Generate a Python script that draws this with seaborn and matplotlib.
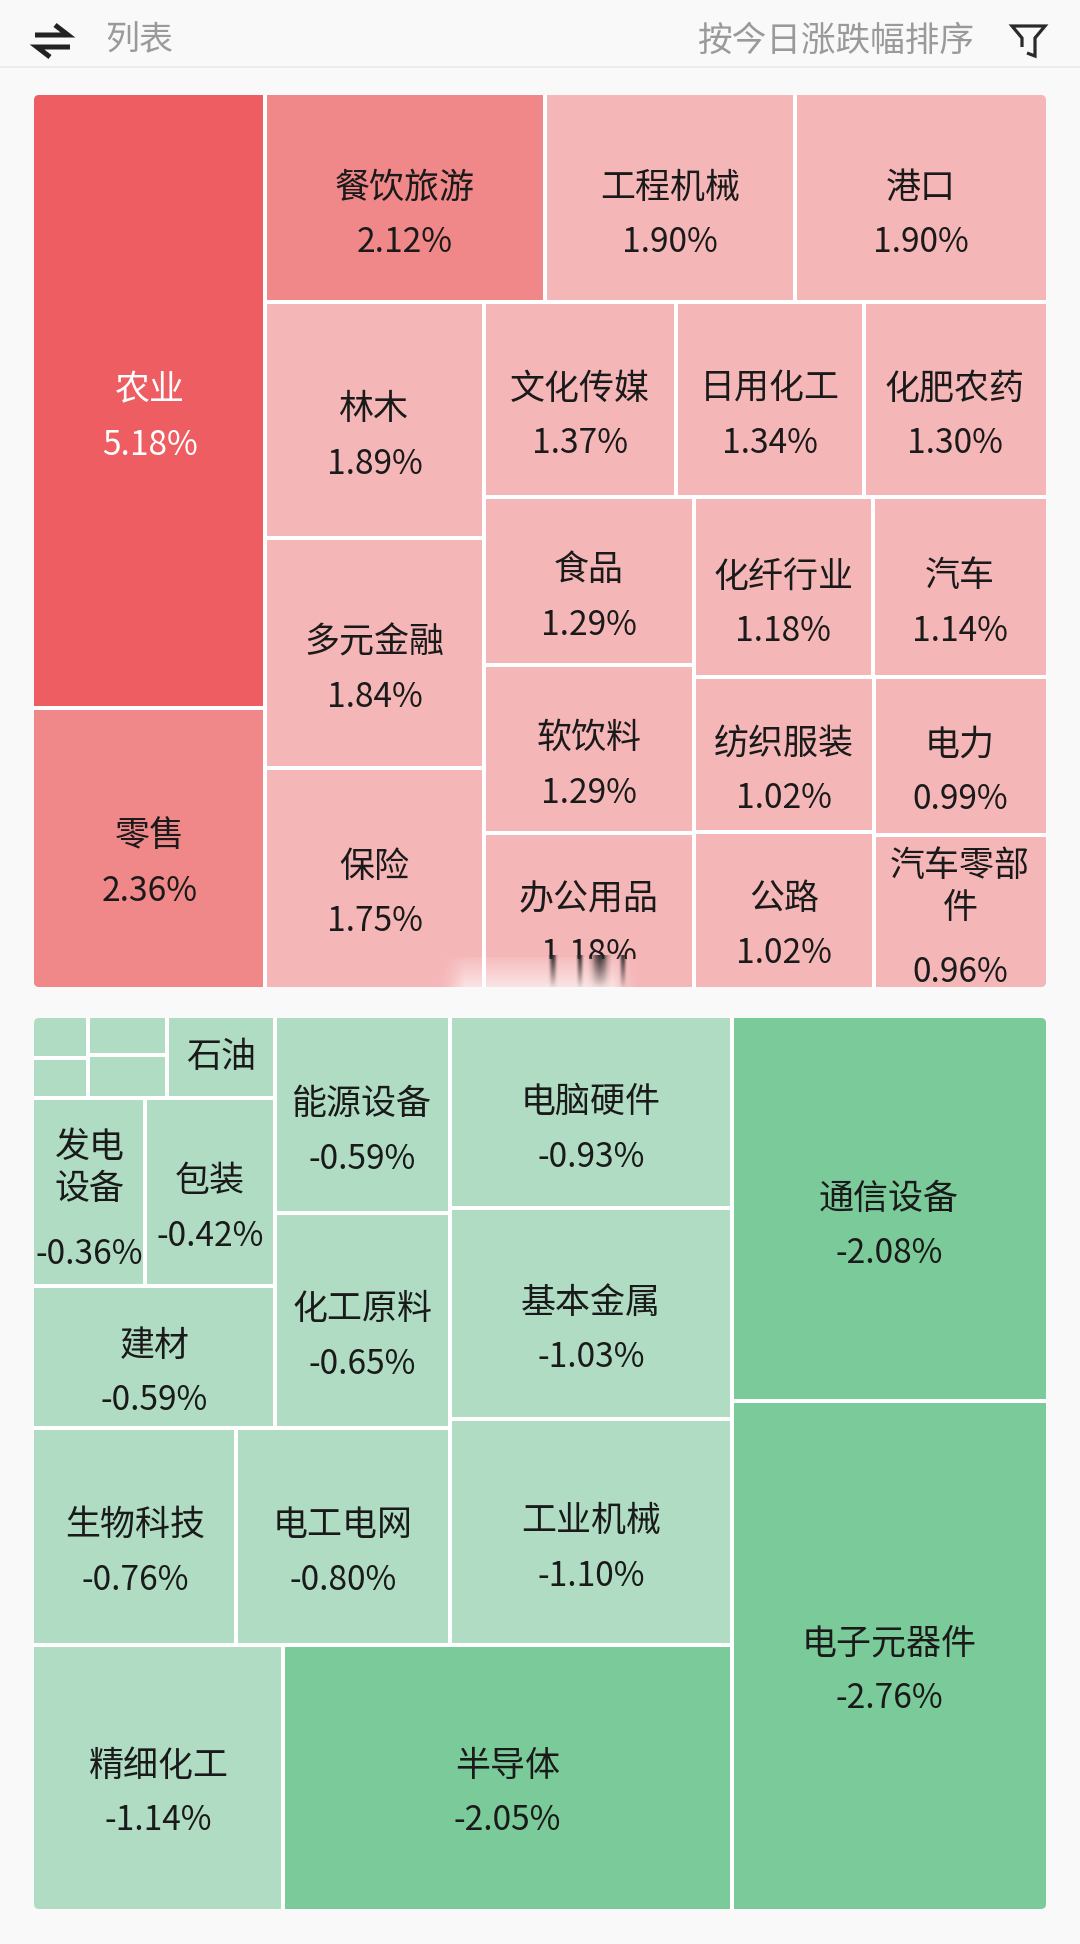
import numpy as np
import matplotlib
matplotlib.use("Agg")
import matplotlib.pyplot as plt
from matplotlib.patches import Rectangle, FancyBboxPatch
import seaborn as sns

up_names = ["农业", "零售", "餐饮旅游", "工程机械", "港口", "林木", "多元金融", "保险", "文化传媒", "日用化工",
            "化肥农药", "食品", "软饮料", "办公用品", "化纤行业", "汽车", "纺织服装", "公路", "电力", "汽车零部件"]
up_values = [5.18, 2.36, 2.12, 1.90, 1.90, 1.89, 1.84, 1.75, 1.37, 1.34,
             1.30, 1.29, 1.29, 1.18, 1.18, 1.14, 1.02, 1.02, 0.99, 0.96]
up_groups = [2, 3, 3, 3, 3, 2, 2, 2]
up_stack = ["col", "row", "col", "row", "col", "row", "col", "col"]

down_names = ["电子元器件", "通信设备", "半导体", "精细化工", "工业机械", "基本金属", "电脑硬件", "电工电网", "生物科技",
              "化工原料", "能源设备", "建材", "包装", "发电设备", "石油", "", "", "", ""]
down_values = [-2.76, -2.08, -2.05, -1.14, -1.10, -1.03, -0.93, -0.80, -0.76,
               -0.65, -0.59, -0.59, -0.42, -0.36, -0.15, -0.06, -0.05, -0.038, -0.037]
down_groups = [2, 2, 3, 2, 2, 1, 2, 1, 2, 2]
down_stack = ["col", "row", "col", "row", "col", "row", "row", "col", "col", "col"]

sns.set_theme(style="white")
plt.rcParams["font.family"] = ["Noto Sans CJK SC", "DejaVu Sans"]

BG = "#F9F9F9"
reds = sns.color_palette(["#F5B6B8", "#F08789", "#EE5D62"])
greens = sns.color_palette(["#B0DCC3", "#7ACA9A"])
PX = 0.72
GAP = 2.0


def shade(v):
    if v >= 3:
        return reds[2]
    if v >= 2:
        return reds[1]
    if v > 0:
        return reds[0]
    return greens[1] if v <= -2 else greens[0]


def layout(values, groups, stacks, w0, h0):
    x0, y0, x1, y1 = 0.0, 0.0, w0, h0
    mags = [abs(v) for v in values]
    remaining = sum(mags)
    out, i = [], 0
    for n, kind in zip(groups, stacks):
        chunk = mags[i:i + n]
        s = sum(chunk)
        w, h = x1 - x0, y1 - y0
        if kind == "col":
            cw = w * s / remaining
            y = y0
            for m in chunk:
                out.append((x0, y, x0 + cw, y + h * m / s))
                y += h * m / s
            x0 += cw
        else:
            ch = h * s / remaining
            x = x0
            for m in chunk:
                out.append((x, y0, x + w * m / s, y0 + ch))
                x += w * m / s
            y0 += ch
        remaining -= s
        i += n
    return out


def draw_panel(ax, names, values, groups, stacks, box, flip):
    x0, y0, x1, y1 = box
    W, H = x1 - x0, y1 - y0
    panel = FancyBboxPatch((x0, y0), W, H, boxstyle="round,pad=0,rounding_size=5",
                           fc="white", ec="none", zorder=1)
    ax.add_patch(panel)
    for name, v, c in zip(names, values, layout(values, groups, stacks, W, H)):
        cx0, cy0, cx1, cy1 = c
        if flip:
            cx0, cx1 = W - cx1, W - cx0
            cy0, cy1 = H - cy1, H - cy0
        ix0 = cx0 + (GAP if cx0 > 0.5 else 0)
        ix1 = cx1 - (GAP if cx1 < W - 0.5 else 0)
        iy0 = cy0 + (GAP if cy0 > 0.5 else 0)
        iy1 = cy1 - (GAP if cy1 < H - 0.5 else 0)
        r = Rectangle((ix0 + x0, iy0 + y0), ix1 - ix0, iy1 - iy0, fc=shade(v), ec="none", zorder=2)
        ax.add_patch(r)
        r.set_clip_path(panel)
        if not name:
            continue
        w, h = cx1 - cx0, cy1 - cy0
        mx, my = (cx0 + cx1) / 2 + x0, (cy0 + cy1) / 2 + y0
        per = int((w - 10) // 35)
        col = "white" if v >= 3 else "#1A1A1A"
        lines = [name[k:k + per] for k in range(0, len(name), per)]
        pct = f"{v:.2f}%"
        if h < 100:
            rows = [(name, my - 1, 35)]
        elif len(lines) == 1:
            rows = [(name, my - 11, 35), (pct, my + 44, 33.5)]
        else:
            rows = [(lines[0], my - 45, 35), (lines[1], my - 3, 35), (pct, my + 62, 33.5)]
        for s, yy, size in rows:
            t = ax.text(mx, yy, s, ha="center", va="center", color=col, fontsize=size * PX, zorder=3)
            t.set_clip_path(r)
            t.set_clip_on(True)
            if name == "办公用品" and s == pct:
                # the screenshot's blurred overlay cuts this label in half
                t.set_clip_path(Rectangle((ix0 + x0, iy0 + y0), ix1 - ix0, 959 - (iy0 + y0),
                                          transform=ax.transData))


fig = plt.figure(figsize=(10.8, 19.44), dpi=100, facecolor=BG)
ax = fig.add_axes([0, 0, 1, 1], facecolor=BG)
ax.set_xlim(0, 1080)
ax.set_ylim(1944, 0)
ax.axis("off")

# header
ax.plot([0, 1080], [67, 67], color="#E9E9E9", lw=1.5 * PX, zorder=1)
ax.text(105, 41, "列表", ha="left", va="center", color="#9A9A9A", fontsize=34 * PX)
ax.text(975, 41, "按今日涨跌幅排序", ha="right", va="center", color="#9A9A9A", fontsize=34.7 * PX)
ax.plot([35, 68, 55], [35, 35, 25], color="#222222", lw=5 * PX, solid_capstyle="butt", solid_joinstyle="miter")
ax.plot([70, 37, 50], [47, 47, 57], color="#222222", lw=5 * PX, solid_capstyle="butt", solid_joinstyle="miter")
ax.plot([1022, 1022, 1012, 1045, 1035, 1035, 1027], [47, 38, 26, 26, 38, 56, 53], color="#2A2A2A",
        lw=3.2 * PX, solid_joinstyle="miter", solid_capstyle="butt")

draw_panel(ax, up_names, up_values, up_groups, up_stack, (34, 95, 1046, 987), False)
draw_panel(ax, down_names, down_values, down_groups, down_stack, (34, 1018, 1046, 1909), True)

# blurred watermark over the bottom edge of the top panel
pale = np.ones((30, 60, 4))
pale[..., 3] = np.outer(np.linspace(0.1, 0.62, 30), np.clip(np.hanning(60) * 5, 0, 1))
ax.imshow(pale, extent=(432, 645, 987, 957), aspect="auto", zorder=5, interpolation="bilinear")
streak_x = [553, 580, 600, 623]
streak_w = [6, 5, 14, 5]
for sx, sw in zip(streak_x, streak_w):
    s = np.zeros((20, 7, 4))
    s[..., :3] = 0.15
    s[..., 3] = np.outer(np.linspace(0.95, 0.08, 20), np.hanning(7))
    ax.imshow(s, extent=(sx - sw, sx + sw, 987, 955), aspect="auto", zorder=6, interpolation="bilinear")
ax.set_xlim(0, 1080)
ax.set_ylim(1944, 0)

fig.savefig("out.png", dpi=100, facecolor=BG)
